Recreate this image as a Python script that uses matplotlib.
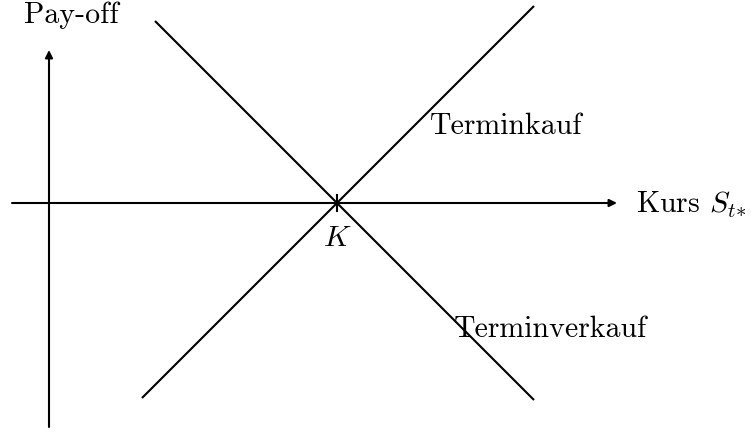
import matplotlib
matplotlib.use("Agg")
import matplotlib.pyplot as plt

plt.rcParams['mathtext.fontset'] = 'cm'
plt.rcParams['font.family'] = ['cmr10', 'DejaVu Serif']
plt.rcParams['axes.unicode_minus'] = False

# Data (price on x, pay-off on y), strike K
K = 288
long_S = [93, 485]
long_payoff = [s - K for s in long_S]
short_S = [106, 485]
short_payoff = [K - s for s in short_S]
labels = {"long": "Terminkauf", "short": "Terminverkauf",
          "x": r"Kurs $S_{t{*}}$", "y": "Pay-off", "K": r"$K$"}

fig = plt.figure(figsize=(7.56, 4.35), dpi=100)
ax = fig.add_axes([0, 0, 1, 1])
ax.set_xlim(-49, 707)
ax.set_ylim(-231, 204)
ax.axis('off')

lw = 1.5
arrow = dict(arrowstyle='-|>', lw=lw, color='black', mutation_scale=11,
             shrinkA=0, shrinkB=0)
# axes
ax.annotate('', xy=(568, 0), xytext=(-37, 0), arrowprops=arrow)
ax.annotate('', xy=(0, 153), xytext=(0, -224), arrowprops=arrow)

ax.plot(long_S, long_payoff, color='black', lw=lw, solid_capstyle='butt')
ax.plot(short_S, short_payoff, color='black', lw=lw, solid_capstyle='butt')
ax.plot([K, K], [-8, 8], color='black', lw=lw)

fs = 21.5
ax.text(22, 181, labels["y"], fontsize=fs, ha='center', va='baseline')
ax.text(587, -9, labels["x"], fontsize=fs, ha='left', va='baseline')
ax.text(K, -34, labels["K"], fontsize=fs, ha='center', va='center')
ax.text(381, 70, labels["long"], fontsize=fs, ha='left', va='baseline')
ax.text(405, -133, labels["short"], fontsize=fs, ha='left', va='baseline')

fig.savefig('out.png', dpi=100)
